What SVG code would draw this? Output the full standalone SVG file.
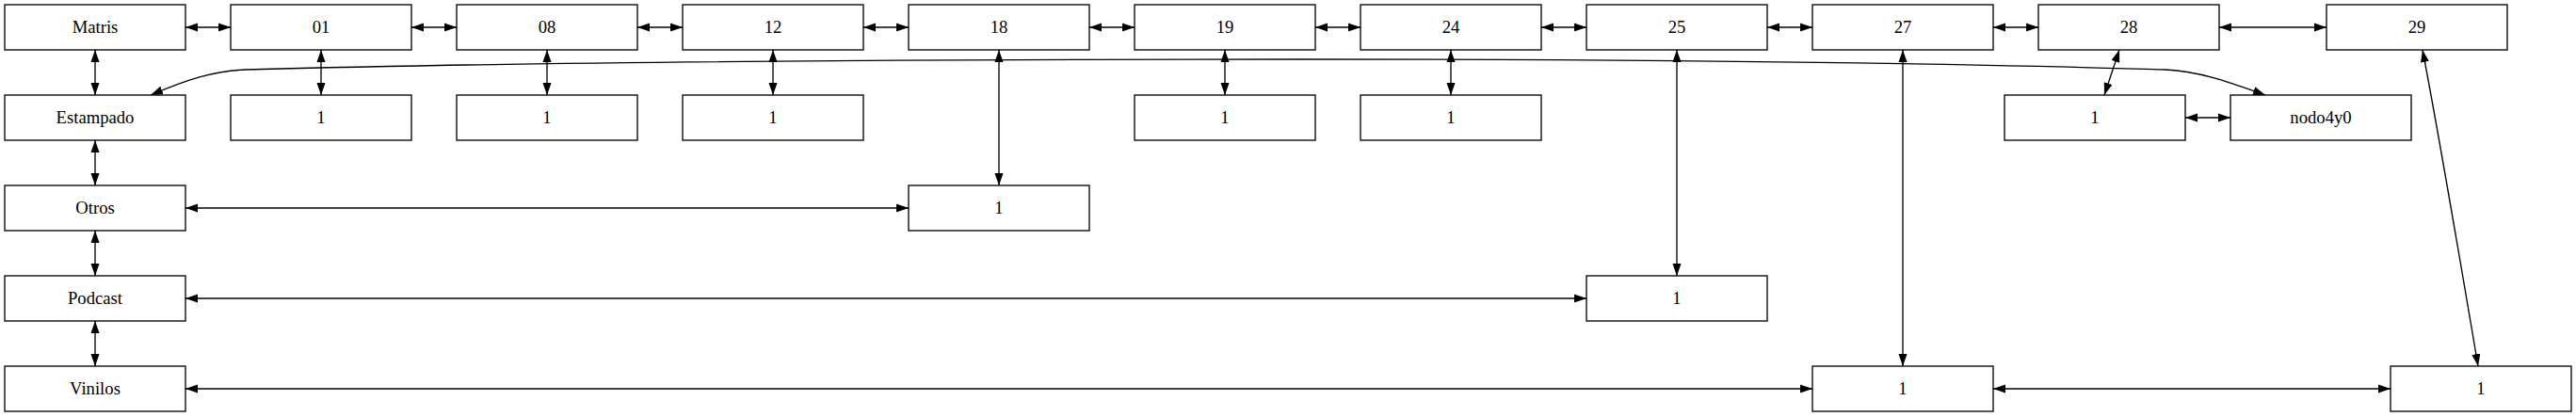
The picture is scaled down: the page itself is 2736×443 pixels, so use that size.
<svg xmlns="http://www.w3.org/2000/svg" width="2736" height="443" viewBox="0 0 2736 443">
<style>
.n rect{fill:#fff;stroke:#000;stroke-width:1.33}
.n text{font-family:"Liberation Serif","Times New Roman",serif;font-size:18.67px;text-anchor:middle;fill:#000}
.e path{fill:none;stroke:#000;stroke-width:1.33;marker-start:url(#a);marker-end:url(#a)}
</style>
<defs>
<marker id="a" viewBox="0 0 10 7" refX="10" refY="3.5" markerWidth="13" markerHeight="9.3" markerUnits="userSpaceOnUse" orient="auto-start-reverse"><path d="M0,0 L10,3.5 L0,7 z" fill="#000"/></marker>
</defs>
<rect width="2736" height="443" fill="#fff"/>
<g id="edges" class="e">
<path d="M197,29 H245"/>
<path d="M437,29 H485"/>
<path d="M677,29 H725"/>
<path d="M917,29 H965"/>
<path d="M1157,29 H1205"/>
<path d="M1397,29 H1445"/>
<path d="M1637,29 H1685"/>
<path d="M1877,29 H1925"/>
<path d="M2117,29 H2165"/>
<path d="M2357,29 H2471"/>
<path d="M101,53 V101"/>
<path d="M101,149 V197"/>
<path d="M101,245 V293"/>
<path d="M101,341 V389"/>
<path d="M341,53 V101"/>
<path d="M581,53 V101"/>
<path d="M821,53 V101"/>
<path d="M1301,53 V101"/>
<path d="M1541,53 V101"/>
<path d="M1061,53 V197"/>
<path d="M1781,53 V293"/>
<path d="M2021,53 V389"/>
<path d="M2251,53 L2235,101"/>
<path d="M2573,53 C2584,110 2600,200 2632,389"/>
<path d="M197,221 H965"/>
<path d="M197,317 H1685"/>
<path d="M197,413 H1925"/>
<path d="M2117,413 H2539"/>
<path d="M2321,125 H2369"/>
<path d="M160,101 C200,84 225,76 260,74 C600,65 1000,63 1380,63 C1800,63 2100,68 2300,74 C2340,76 2375,90 2406,101"/>
</g>
<g id="Matris" class="n"><rect x="5" y="5" width="192" height="48"/><text x="101" y="35">Matris</text></g>
<g id="n01" class="n"><rect x="245" y="5" width="192" height="48"/><text x="341" y="35">01</text></g>
<g id="n08" class="n"><rect x="485" y="5" width="192" height="48"/><text x="581" y="35">08</text></g>
<g id="n12" class="n"><rect x="725" y="5" width="192" height="48"/><text x="821" y="35">12</text></g>
<g id="n18" class="n"><rect x="965" y="5" width="192" height="48"/><text x="1061" y="35">18</text></g>
<g id="n19" class="n"><rect x="1205" y="5" width="192" height="48"/><text x="1301" y="35">19</text></g>
<g id="n24" class="n"><rect x="1445" y="5" width="192" height="48"/><text x="1541" y="35">24</text></g>
<g id="n25" class="n"><rect x="1685" y="5" width="192" height="48"/><text x="1781" y="35">25</text></g>
<g id="n27" class="n"><rect x="1925" y="5" width="192" height="48"/><text x="2021" y="35">27</text></g>
<g id="n28" class="n"><rect x="2165" y="5" width="192" height="48"/><text x="2261" y="35">28</text></g>
<g id="n29" class="n"><rect x="2471" y="5" width="192" height="48"/><text x="2567" y="35">29</text></g>
<g id="Estampado" class="n"><rect x="5" y="101" width="192" height="48"/><text x="101" y="131">Estampado</text></g>
<g id="v01" class="n"><rect x="245" y="101" width="192" height="48"/><text x="341" y="131">1</text></g>
<g id="v08" class="n"><rect x="485" y="101" width="192" height="48"/><text x="581" y="131">1</text></g>
<g id="v12" class="n"><rect x="725" y="101" width="192" height="48"/><text x="821" y="131">1</text></g>
<g id="v19" class="n"><rect x="1205" y="101" width="192" height="48"/><text x="1301" y="131">1</text></g>
<g id="v24" class="n"><rect x="1445" y="101" width="192" height="48"/><text x="1541" y="131">1</text></g>
<g id="v28" class="n"><rect x="2129" y="101" width="192" height="48"/><text x="2225" y="131">1</text></g>
<g id="nodo4y0" class="n"><rect x="2369" y="101" width="192" height="48"/><text x="2465" y="131">nodo4y0</text></g>
<g id="Otros" class="n"><rect x="5" y="197" width="192" height="48"/><text x="101" y="227">Otros</text></g>
<g id="v18" class="n"><rect x="965" y="197" width="192" height="48"/><text x="1061" y="227">1</text></g>
<g id="Podcast" class="n"><rect x="5" y="293" width="192" height="48"/><text x="101" y="323">Podcast</text></g>
<g id="v25" class="n"><rect x="1685" y="293" width="192" height="48"/><text x="1781" y="323">1</text></g>
<g id="Vinilos" class="n"><rect x="5" y="389" width="192" height="48"/><text x="101" y="419">Vinilos</text></g>
<g id="v27" class="n"><rect x="1925" y="389" width="192" height="48"/><text x="2021" y="419">1</text></g>
<g id="v29" class="n"><rect x="2539" y="389" width="192" height="48"/><text x="2635" y="419">1</text></g>
</svg>
